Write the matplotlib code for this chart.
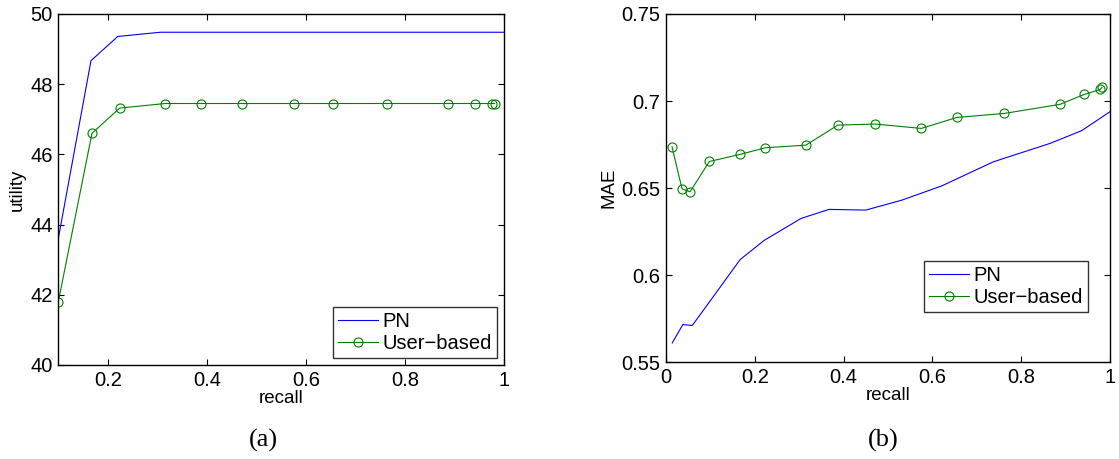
import matplotlib
matplotlib.use("Agg")
import matplotlib.pyplot as plt

plt.rcParams["font.family"] = ["Liberation Sans", "DejaVu Sans"]

# (a) utility vs recall
a_pn_recall = [0.1, 0.166, 0.22, 0.306, 1.0]
a_pn_utility = [43.6, 48.67, 49.36, 49.48, 49.48]
a_ub_recall = [0.1, 0.168, 0.224, 0.316, 0.388, 0.471, 0.576, 0.655, 0.763,
               0.886, 0.942, 0.976, 0.981]
a_ub_utility = [41.8, 46.6, 47.32, 47.45, 47.45, 47.45, 47.45, 47.45, 47.45,
                47.45, 47.45, 47.45, 47.45]

# (b) MAE vs recall
b_pn_recall = [0.014, 0.038, 0.059, 0.095, 0.167, 0.221, 0.304, 0.367, 0.45,
               0.531, 0.621, 0.737, 0.865, 0.936, 1.0]
b_pn_mae = [0.5611, 0.5717, 0.5711, 0.5837, 0.609, 0.620, 0.6326, 0.6378, 0.6374,
            0.6431, 0.6513, 0.6651, 0.6757, 0.6830, 0.6939]
b_ub_recall = [0.0135, 0.036, 0.054, 0.0976, 0.167, 0.224, 0.315, 0.387, 0.471,
               0.575, 0.655, 0.762, 0.887, 0.942, 0.978, 0.982]
b_ub_mae = [0.6737, 0.6496, 0.6479, 0.6653, 0.6694, 0.6732, 0.6747, 0.6862, 0.6868,
            0.6843, 0.6906, 0.6929, 0.6981, 0.7038, 0.7067, 0.7079]

BLUE = (0, 0, 1)
GREEN = (0, 0.5, 0)
FS = 14.5

fig = plt.figure(figsize=(11.19, 4.59), dpi=100)
ax1 = fig.add_axes([0.0521, 0.2048, 0.3983, 0.7647])
ax2 = fig.add_axes([0.5952, 0.2107, 0.3968, 0.7588])


def style(ax):
    ax.tick_params(direction="in", top=True, right=True, length=4, width=0.8,
                   labelsize=FS, pad=4)
    for s in ax.spines.values():
        s.set_linewidth(1.0)


ax1.plot(a_pn_recall, a_pn_utility, color=BLUE, lw=0.8, label="PN")
ax1.plot(a_ub_recall, a_ub_utility, color=GREEN, lw=0.8, marker="o",
         markersize=6.5, markerfacecolor="none", markeredgewidth=0.8, label="User\u2212based")
ax1.set_xlim(0.1, 1)
ax1.set_ylim(40, 50)
ax1.set_xticks([0.2, 0.4, 0.6, 0.8, 1.0])
ax1.set_xticklabels(["0.2", "0.4", "0.6", "0.8", "1"])
ax1.set_yticks([40, 42, 44, 46, 48, 50])
ax1.set_xlabel("recall", fontsize=FS - 1, labelpad=0)
ax1.set_ylabel("utility", fontsize=FS - 1, labelpad=3)
style(ax1)

ax2.plot(b_pn_recall, b_pn_mae, color=BLUE, lw=0.8, label="PN")
ax2.plot(b_ub_recall, b_ub_mae, color=GREEN, lw=0.8, marker="o",
         markersize=6.5, markerfacecolor="none", markeredgewidth=0.8, label="User\u2212based")
ax2.set_xlim(0, 1)
ax2.set_ylim(0.55, 0.75)
ax2.set_xticks([0, 0.2, 0.4, 0.6, 0.8, 1.0])
ax2.set_xticklabels(["0", "0.2", "0.4", "0.6", "0.8", "1"])
ax2.set_yticks([0.55, 0.6, 0.65, 0.7, 0.75])
ax2.set_yticklabels(["0.55", "0.6", "0.65", "0.7", "0.75"])
ax2.set_xlabel("recall", fontsize=FS - 1, labelpad=0)
ax2.set_ylabel("MAE", fontsize=FS - 1, labelpad=3)
style(ax2)

for ax, anchor in [(ax1, (333 / 1119, 1 - 307 / 459)), (ax2, (924 / 1119, 1 - 261 / 459))]:
    leg = ax.legend(loc="upper left", bbox_to_anchor=anchor,
                    bbox_transform=fig.transFigure, fontsize=FS, frameon=True,
                    fancybox=False, handlelength=2.0, handletextpad=0.2,
                    borderpad=0.25, labelspacing=0.15, borderaxespad=0)
    leg.get_frame().set_edgecolor("black")
    leg.get_frame().set_linewidth(1.0)

fig.text(263 / 1119, 1 - 440 / 459, "(a)", ha="center", va="center",
         fontsize=19, family=["Liberation Serif", "DejaVu Serif"])
fig.text(883 / 1119, 1 - 440 / 459, "(b)", ha="center", va="center",
         fontsize=19, family=["Liberation Serif", "DejaVu Serif"])

fig.savefig("out.png", dpi=100)
